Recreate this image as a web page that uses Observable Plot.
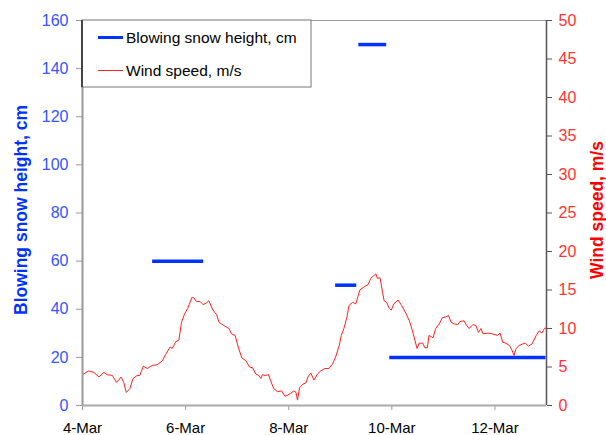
<!DOCTYPE html>
<html>
<head>
<meta charset="utf-8">
<script src="https://cdn.jsdelivr.net/npm/d3@7"></script>
<script src="https://cdn.jsdelivr.net/npm/@observablehq/plot@0.6"></script>
<style>
  html, body { margin: 0; padding: 0; background: white; }
  #chart { position: relative; width: 606px; height: 435px; }
</style>
</head>
<body>
<div id="chart"></div>
<script>
// Wind speed (m/s) time series: day of March (decimal) and speed
const windDay = [4.00,4.12,4.22,4.32,4.41,4.48,4.58,4.66,4.75,4.80,4.85,4.92,4.98,5.06,5.11,5.18,5.26,5.35,5.45,5.55,5.61,5.70,5.74,5.81,5.87,5.92,5.98,6.04,6.12,6.16,6.21,6.28,6.34,6.40,6.45,6.53,6.60,6.65,6.74,6.84,6.89,6.96,7.02,7.09,7.17,7.24,7.30,7.36,7.42,7.46,7.49,7.55,7.61,7.65,7.71,7.78,7.86,7.93,7.97,8.04,8.10,8.14,8.17,8.21,8.28,8.33,8.38,8.43,8.49,8.56,8.62,8.70,8.78,8.85,8.91,8.98,9.02,9.07,9.13,9.17,9.24,9.30,9.38,9.46,9.54,9.59,9.64,9.69,9.72,9.77,9.82,9.85,9.90,9.95,9.99,10.04,10.12,10.19,10.27,10.34,10.40,10.45,10.49,10.53,10.60,10.64,10.69,10.72,10.80,10.85,10.92,10.98,11.05,11.10,11.15,11.21,11.28,11.32,11.40,11.45,11.50,11.57,11.63,11.68,11.73,11.77,11.86,11.95,12.05,12.10,12.15,12.21,12.28,12.33,12.37,12.41,12.47,12.54,12.59,12.65,12.72,12.80,12.86,12.91,12.96,13.00];
const windSpeed = [4.0,4.5,4.3,3.7,4.3,4.0,3.9,3.0,3.7,3.0,1.7,2.2,3.5,3.9,3.9,5.1,4.8,5.2,5.3,5.8,6.6,7.6,7.4,8.3,8.5,10.8,11.9,12.6,14.0,14.0,13.5,13.5,13.1,13.3,13.6,12.4,11.8,10.8,10.4,10.0,9.3,9.1,7.6,6.2,5.8,5.0,4.9,4.1,3.9,3.5,4.0,3.9,4.0,3.2,2.2,1.8,1.9,1.2,1.3,1.6,1.9,1.7,0.7,2.3,2.8,2.9,3.8,4.2,3.3,4.1,4.5,4.8,4.8,5.4,6.3,7.8,9.1,10.0,11.5,13.0,13.4,13.2,15.0,15.4,15.7,16.5,16.8,17.1,16.5,16.6,14.7,13.6,13.4,12.6,12.4,13.2,13.7,13.0,12.0,11.0,9.7,8.4,7.4,8.1,8.1,7.5,7.5,9.1,8.8,10.0,10.6,11.4,11.5,11.7,10.8,10.6,10.5,10.9,11.0,10.4,10.0,10.5,10.4,9.5,10.0,9.3,9.4,9.3,9.1,9.4,8.2,8.1,7.8,7.2,6.5,7.4,7.8,8.0,8.1,7.7,8.0,9.1,9.7,9.4,10.0,10.1];

// Blowing snow height (cm) periods
const snowStart  = [5.36, 8.91, 9.36, 9.96];
const snowEnd    = [6.35, 9.32, 9.90, 12.99];
const snowHeight = [60, 50, 150, 20];

// Axis ticks
const dayTicks = [4, 6, 8, 10, 12];
const leftTicks = [0, 20, 40, 60, 80, 100, 120, 140, 160];
const rightTicks = [0, 5, 10, 15, 20, 25, 30, 35, 40, 45, 50];

const seriesLabels = ["Blowing snow height, cm", "Wind speed, m/s"];

const BLUE = "#0033ff";
const BLUE_TXT = "#3355ff";
const RED = "#ff2020";
const RED_TXT = "#ff3333";
const FONT = "'Liberation Sans', Arial, sans-serif";

const k = 160 / 50; // wind -> left scale factor
const dayToDate = d => new Date(Date.UTC(2000, 2, 1) + (d - 1) * 864e5);

const wind = windDay.map((d, i) => ({date: dayToDate(d), speed: windSpeed[i]}));
const snow = snowHeight.map((h, i) => ({x1: dayToDate(snowStart[i]), x2: dayToDate(snowEnd[i]), h}));

const x0 = dayToDate(4), x1 = dayToDate(13);

const chart = Plot.plot({
  width: 606,
  height: 435,
  marginLeft: 82,
  marginRight: 60,
  marginTop: 20,
  marginBottom: 30,
  style: {fontFamily: FONT, fontSize: "14px", background: "white", overflow: "visible"},
  x: {type: "utc", domain: [x0, x1]},
  y: {domain: [0, 160]},
  marks: [
    Plot.ruleY([160], {stroke: "#999", strokeWidth: 1}),
    Plot.axisY({ticks: leftTicks, tickSize: 6, tickPadding: 8, stroke: "#999", fill: BLUE_TXT, fontSize: 16, label: null}),
    Plot.axisY({anchor: "right", ticks: rightTicks.map(v => v * k), tickFormat: d => Math.round(d / k), tickSize: 5, tickPadding: 7, stroke: "#555", fill: RED_TXT, fontSize: 16, label: null}),
    Plot.axisX({ticks: dayTicks.map(dayToDate), tickFormat: d3.utcFormat("%-d-%b"), tickSize: 5, tickPadding: 12, stroke: "#999", fill: "#000", fontSize: 15, label: null}),
    Plot.ruleX([x1], {stroke: "#555", strokeWidth: 1.5}),
    Plot.line(wind, {x: "date", y: d => d.speed * k, stroke: RED, strokeWidth: 1}),
    Plot.ruleY(snow, {y: "h", x1: "x1", x2: "x2", stroke: BLUE, strokeWidth: 3.5}),
    Plot.ruleX([x0], {stroke: "#999", strokeWidth: 2}),
    Plot.ruleY([0], {stroke: "#aaa", strokeWidth: 2}),
    Plot.text([seriesLabels[0]], {frameAnchor: "left", textAnchor: "middle", dx: -61, dy: -3, rotate: -90, fill: BLUE, fontWeight: "bold", fontSize: 17.5}),
    Plot.text([seriesLabels[1]], {frameAnchor: "right", textAnchor: "middle", dx: 51, dy: -3, rotate: -90, fill: "#ff0000", fontWeight: "bold", fontSize: 17.5})
  ]
});

document.getElementById("chart").appendChild(chart);

// Legend box
const svg = d3.select(chart);
const lg = svg.append("g").attr("font-family", FONT).attr("font-size", 15.5).attr("text-anchor", "start");
lg.append("rect").attr("x", 82).attr("y", 20).attr("width", 229).attr("height", 67)
  .attr("fill", "white").attr("stroke", "#777").attr("stroke-width", 1);
lg.append("line").attr("x1", 82).attr("x2", 82).attr("y1", 20).attr("y2", 87).attr("stroke", "#222").attr("stroke-width", 1.5);
lg.append("line").attr("x1", 98).attr("x2", 123).attr("y1", 37.5).attr("y2", 37.5).attr("stroke", BLUE).attr("stroke-width", 3);
lg.append("text").attr("x", 126).attr("y", 42.5).attr("fill", "#000").text(seriesLabels[0]);
lg.append("line").attr("x1", 98).attr("x2", 123).attr("y1", 70.5).attr("y2", 70.5).attr("stroke", RED).attr("stroke-width", 1);
lg.append("text").attr("x", 126).attr("y", 75.5).attr("fill", "#000").text(seriesLabels[1]);
</script>
</body>
</html>
